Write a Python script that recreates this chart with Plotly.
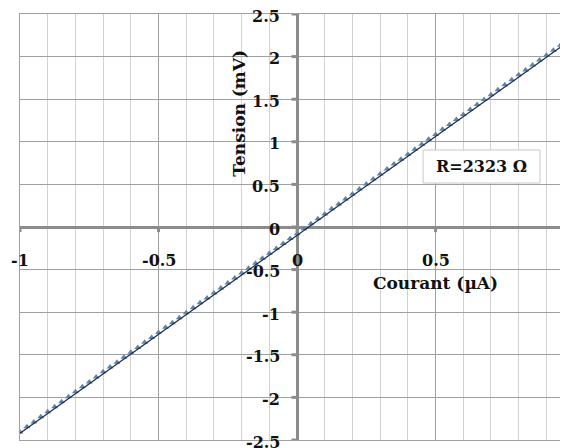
import plotly.graph_objects as go

# ---- data ----
courant = [-1.000, -0.975, -0.950, -0.925, -0.900, -0.875, -0.850, -0.825, -0.800, -0.775,
           -0.750, -0.725, -0.700, -0.675, -0.650, -0.625, -0.600, -0.575, -0.550, -0.525,
           -0.500, -0.475, -0.450, -0.425, -0.400, -0.375, -0.350, -0.325, -0.300, -0.275,
           -0.250, -0.225, -0.200, -0.175, -0.150, -0.125, -0.100, -0.075, -0.050, -0.025,
           0.000, 0.025, 0.050, 0.075, 0.100, 0.125, 0.150, 0.175, 0.200, 0.225,
           0.250, 0.275, 0.300, 0.325, 0.350, 0.375, 0.400, 0.425, 0.450, 0.475,
           0.500, 0.525, 0.550, 0.575, 0.600, 0.625, 0.650, 0.675, 0.700, 0.725,
           0.750, 0.775, 0.800, 0.825, 0.850, 0.875, 0.900, 0.925, 0.950, 0.975]
tension = [-2.405, -2.344, -2.288, -2.228, -2.168, -2.110, -2.050, -1.992, -1.933, -1.876,
           -1.818, -1.762, -1.700, -1.643, -1.588, -1.529, -1.470, -1.413, -1.354, -1.297,
           -1.239, -1.178, -1.123, -1.064, -1.005, -0.948, -0.890, -0.833, -0.774, -0.716,
           -0.658, -0.600, -0.541, -0.484, -0.426, -0.368, -0.309, -0.251, -0.194, -0.135,
           -0.078, -0.020, 0.038, 0.097, 0.154, 0.213, 0.270, 0.330, 0.388, 0.446,
           0.504, 0.563, 0.621, 0.680, 0.738, 0.796, 0.854, 0.913, 0.970, 1.029,
           1.087, 1.146, 1.204, 1.262, 1.321, 1.378, 1.438, 1.496, 1.553, 1.612,
           1.670, 1.728, 1.786, 1.843, 1.901, 1.959, 2.016, 2.074, 2.132, 2.190]
fit_x = [-1.0, 1.0]
fit_y = [-2.421, 2.225]

x_ticks = [-1, -0.5, 0, 0.5]
x_tick_labels = ["-1", "-0.5", "0", "0.5"]
y_ticks = [2.5, 2, 1.5, 1, 0.5, 0, -0.5, -1, -1.5, -2, -2.5]
y_tick_labels = ["2.5", "2", "1.5", "1", "0.5", "0", "-0.5", "-1", "-1.5", "-2", "-2.5"]
annotation_text = "R=2323 Ω"
x_title = "Courant (µA)"
y_title = "Tension (mV)"

FONT = dict(family="DejaVu Serif", size=16, color="#111111")
TFONT = dict(family="DejaVu Serif", size=17, color="#111111")

fig = go.Figure()
fig.add_trace(go.Scatter(x=courant, y=tension, mode="markers",
                         marker=dict(symbol="triangle-up", size=6, color="#5f84ad"),
                         showlegend=False, hoverinfo="skip"))
fig.add_trace(go.Scatter(x=fit_x, y=fit_y, mode="lines",
                         line=dict(color="#1c2a40", width=1.2),
                         showlegend=False, hoverinfo="skip"))

annotations = []
for v, t in zip(x_ticks, x_tick_labels):
    annotations.append(dict(x=v, y=0, xref="x", yref="y", text="<b>%s</b>" % t,
                            showarrow=False, xanchor="center", yanchor="middle",
                            yshift=-33, font=FONT))
for v, t in zip(y_ticks, y_tick_labels):
    annotations.append(dict(x=0, y=v, xref="x", yref="y", text="<b>%s</b>" % t,
                            showarrow=False, xanchor="right", yanchor="middle",
                            xshift=-15, yshift=-2, font=FONT))
annotations.append(dict(x=0.5, y=0, xref="x", yref="y", text="<b>%s</b>" % x_title,
                        showarrow=False, xanchor="center", yanchor="middle",
                        yshift=-56, font=TFONT))
annotations.append(dict(x=0, y=1.33, xref="x", yref="y", text="<b>%s</b>" % y_title,
                        showarrow=False, xanchor="center", yanchor="middle",
                        xshift=-58, textangle=-90, font=TFONT))
annotations.append(dict(x=0.666, y=0.71, xref="x", yref="y", text="<b>%s</b>" % annotation_text,
                        showarrow=False, xanchor="center", yanchor="middle",
                        font=dict(family="DejaVu Serif", size=16, color="#111111")))

shapes = [dict(type="rect", xref="x", yref="y", x0=0.455, x1=0.877, y0=0.516, y1=0.904,
               line=dict(color="#c8c8c8", width=1), fillcolor="white", layer="above")]
for v in y_ticks:
    shapes.append(dict(type="line", xref="x", yref="y", x0=-0.02, x1=0, y0=v, y1=v,
                       line=dict(color="#8c8c8c", width=3)))
for v in x_ticks:
    shapes.append(dict(type="line", xref="x", yref="y", x0=v, x1=v, y0=-0.06, y1=0,
                       line=dict(color="#8c8c8c", width=3)))

# page body adds an 8px offset; figure sized to fill the rest of the window
fig.update_layout(
    width=560, height=440,
    margin=dict(l=12, r=0, t=6, b=8),
    paper_bgcolor="white", plot_bgcolor="white",
    showlegend=False,
    annotations=annotations,
    shapes=shapes,
    xaxis=dict(range=[-1, 0.978], tick0=0, dtick=0.5, showticklabels=False,
               showgrid=True, gridcolor="#a0a0a0", gridwidth=1,
               minor=dict(dtick=0.1, showgrid=True, gridcolor="#d2d2d2", gridwidth=1),
               zeroline=True, zerolinecolor="#8c8c8c", zerolinewidth=3,
               showline=True, mirror=True, linecolor="#a0a0a0", linewidth=1,
               ticks=""),
    yaxis=dict(range=[-2.5, 2.5], tick0=0, dtick=0.5, showticklabels=False,
               showgrid=True, gridcolor="#a0a0a0", gridwidth=1,
               zeroline=True, zerolinecolor="#8c8c8c", zerolinewidth=3,
               showline=True, mirror=False, linecolor="#a0a0a0", linewidth=1,
               ticks=""),
)

fig.write_html("out.html")
